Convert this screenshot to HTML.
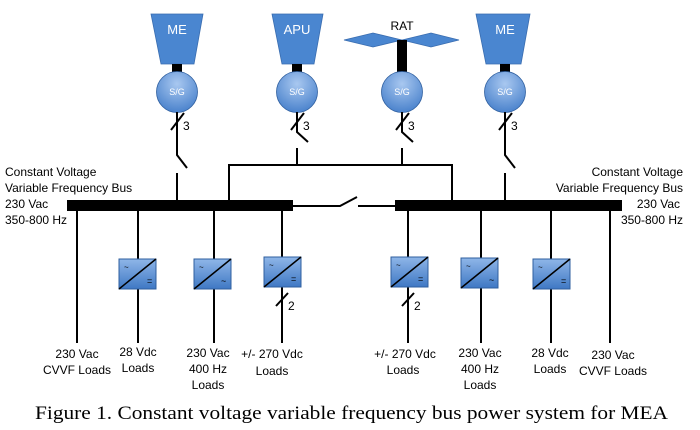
<!DOCTYPE html>
<html><head><style>body{margin:0;background:#fff;}svg{display:block}</style></head><body>
<svg width="700" height="430" viewBox="0 0 700 430" xmlns="http://www.w3.org/2000/svg" font-family="Liberation Sans, sans-serif">
<defs>
<radialGradient id="cg" cx="50%" cy="30%" r="70%"><stop offset="0" stop-color="#a9c8f0"/><stop offset="1" stop-color="#4a82cc"/></radialGradient>
<linearGradient id="bg" x1="0" y1="0" x2="0" y2="1"><stop offset="0" stop-color="#8fb6e8"/><stop offset="1" stop-color="#3f78c4"/></linearGradient>
<g id="conv"><rect x="0" y="0" width="37" height="30" fill="url(#bg)" stroke="#2f5f9f" stroke-width="1"/><line x1="0" y1="30" x2="37" y2="0" stroke="#000" stroke-width="1.5"/><text x="5" y="11" font-size="8" fill="#000">~</text></g>
</defs>
<g fill="#4a86d0" stroke="#3a6db0" stroke-width="0.8">
<polygon points="151,14 203,14 194,64 161,64"/>
<polygon points="272,14 323,14 314,64 282,64"/>
<polygon points="476,14 530,14 521,64 486,64"/>
<polygon points="344,40 373,33 402,40 373,47"/>
<polygon points="402,40 431,33 459,40 431,47"/>
</g>
<g fill="#fff" font-size="13" text-anchor="middle"><text x="177" y="34">ME</text><text x="297" y="34">APU</text><text x="505" y="34">ME</text></g>
<text x="402" y="30" font-size="12" text-anchor="middle">RAT</text>
<g fill="#000"><rect x="172" y="64" width="10" height="10"/><rect x="292" y="64" width="10" height="10"/><rect x="397" y="40" width="10" height="33"/><rect x="500" y="64" width="10" height="10"/></g>
<g fill="url(#cg)" stroke="#2f5f9f" stroke-width="0.8"><circle cx="177" cy="92" r="20.5"/><circle cx="297" cy="92" r="20.5"/><circle cx="402" cy="92" r="20.5"/><circle cx="505" cy="92" r="20.5"/></g>
<g fill="#fff" font-size="9" text-anchor="middle"><text x="177" y="95">S/G</text><text x="297" y="95">S/G</text><text x="402" y="95">S/G</text><text x="505" y="95">S/G</text></g>
<g stroke="#000" stroke-width="2" fill="none">
<path d="M177,112 V155 L187,168 M177,173 V200"/>
<path d="M297,112 V132 L308,142 M297,148 V165"/>
<path d="M402,112 V132 L413,142 M402,148 V165"/>
<path d="M505,112 V155 L515,168 M505,173 V200"/>
<path d="M229,200 V165 H452 V200"/>
<path d="M293,206 H340 L357,197 M358,206 H395"/>
<path d="M171,130 L184,113 M291,130 L304,113 M396,130 L409,113 M499,130 L512,113"/>
<path d="M77,211 V343 M138,211 V343 M214,211 V343 M282,211 V343"/>
<path d="M408,211 V343 M481,211 V343 M551,211 V343 M610,211 V343"/>
<path d="M276,306 L288,293 M402,306 L414,293"/>
</g>
<g font-size="12"><text x="183" y="130">3</text><text x="303" y="130">3</text><text x="408" y="130">3</text><text x="511" y="130">3</text><text x="288" y="310">2</text><text x="414" y="310">2</text></g>
<rect x="67" y="200" width="226" height="11" fill="#000"/>
<rect x="395" y="200" width="227" height="11" fill="#000"/>
<use href="#conv" x="119" y="259"/><use href="#conv" x="194" y="259"/><use href="#conv" x="264" y="257"/>
<use href="#conv" x="391" y="257"/><use href="#conv" x="461" y="258"/><use href="#conv" x="533" y="259"/>
<g font-size="9"><text x="147" y="284">=</text><text x="221" y="284">~</text><text x="291" y="282">=</text><text x="418" y="282">=</text><text x="489" y="283">~</text><text x="561" y="284">=</text></g>
<g font-size="12"><text x="5" y="176">Constant Voltage</text><text x="5" y="192">Variable Frequency Bus</text><text x="5" y="208">230 Vac</text><text x="5" y="224">350-800 Hz</text></g>
<g font-size="12" text-anchor="end"><text x="683" y="176">Constant Voltage</text><text x="683" y="192">Variable Frequency Bus</text><text x="680" y="208">230 Vac</text><text x="683" y="224">350-800 Hz</text></g>
<g font-size="12" text-anchor="middle">
<text x="77" y="358">230 Vac</text><text x="77" y="374">CVVF Loads</text>
<text x="138" y="356">28 Vdc</text><text x="138" y="372">Loads</text>
<text x="208" y="357">230 Vac</text><text x="208" y="373">400 Hz</text><text x="208" y="389">Loads</text>
<text x="272" y="358">+/- 270 Vdc</text><text x="272" y="375">Loads</text>
<text x="405" y="358">+/- 270 Vdc</text><text x="403" y="374">Loads</text>
<text x="480" y="357">230 Vac</text><text x="480" y="373">400 Hz</text><text x="480" y="389">Loads</text>
<text x="550" y="357">28 Vdc</text><text x="550" y="373">Loads</text>
<text x="613" y="359">230 Vac</text><text x="613" y="375">CVVF Loads</text>
</g>
<text x="35" y="419" font-family="Liberation Serif, serif" font-size="19" textLength="633" lengthAdjust="spacingAndGlyphs">Figure 1. Constant voltage variable frequency bus power system for MEA</text>
</svg>
</body></html>
